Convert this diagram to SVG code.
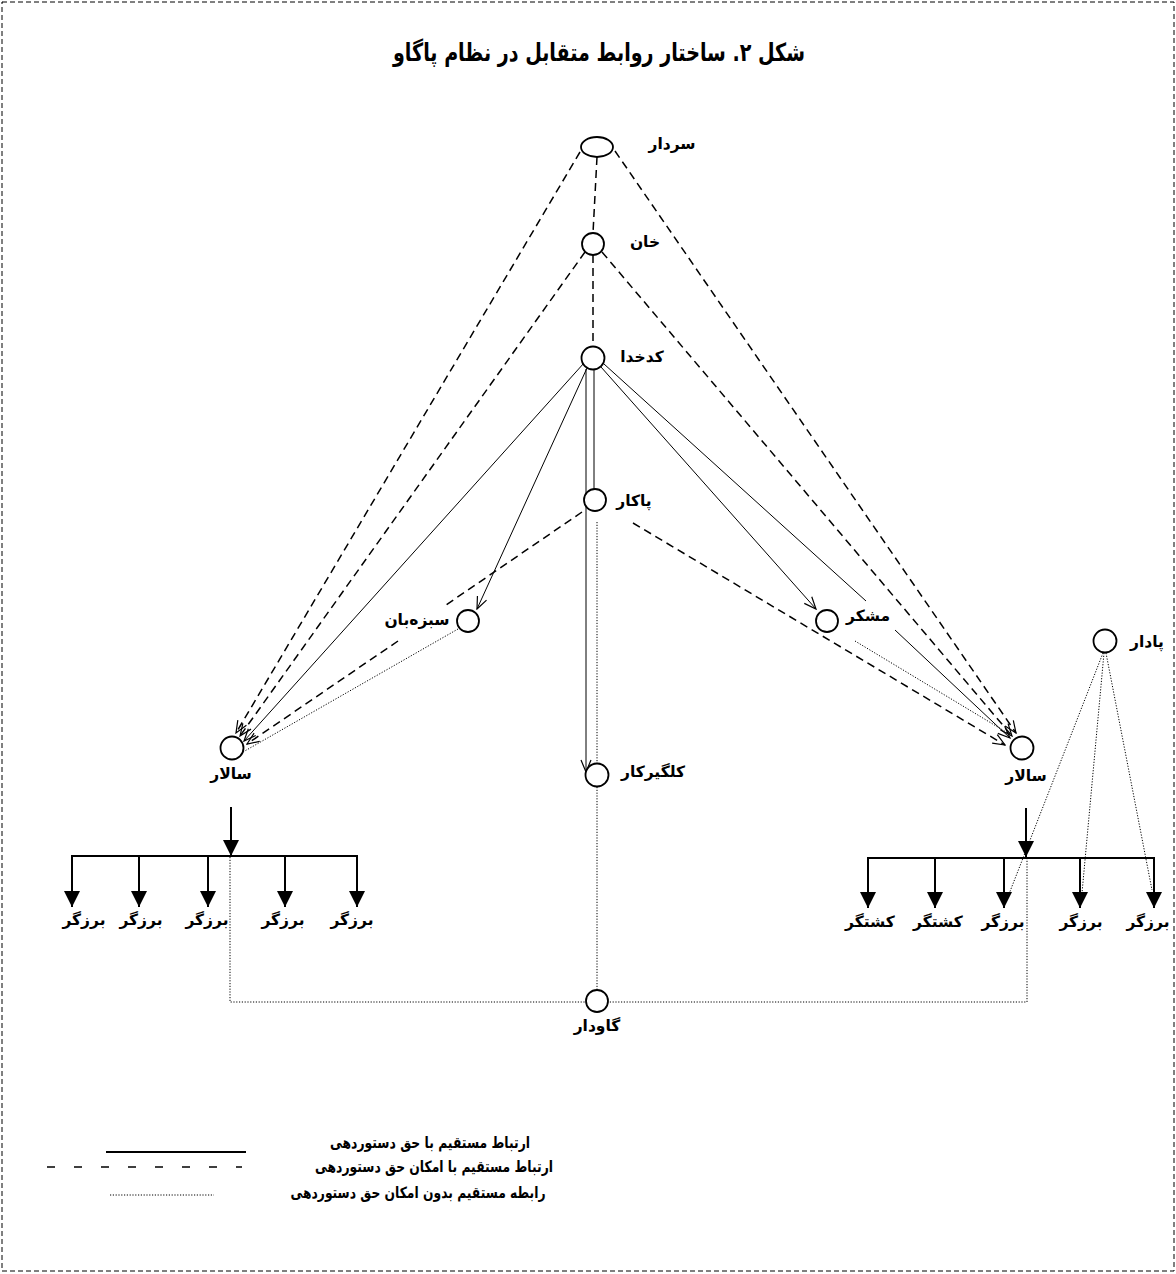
<svg xmlns="http://www.w3.org/2000/svg" width="1176" height="1274" viewBox="0 0 1176 1274">
<style>
.t{font-family:"DejaVu Sans","Noto Sans",sans-serif;font-weight:bold;font-size:15.5px;fill:#000;text-anchor:middle}
.title{font-size:25px}
.node{fill:#fff;stroke:#000;stroke-width:1.8}
.dash{fill:none;stroke:#000;stroke-width:1.5;stroke-dasharray:8 5}
.solid{fill:none;stroke:#000;stroke-width:1}
.dot{fill:none;stroke:#000;stroke-width:1;stroke-dasharray:1.2 1.6}
.thick{fill:none;stroke:#000;stroke-width:2}
</style>
<defs>
<marker id="open" markerWidth="14" markerHeight="12" refX="13" refY="6" orient="auto" markerUnits="userSpaceOnUse"><path d="M1,1 L13,6 L1,11" fill="none" stroke="#000" stroke-width="1.2" stroke-dasharray="none"/></marker>
<marker id="fill" markerWidth="16" markerHeight="16" refX="16" refY="8" orient="auto" markerUnits="userSpaceOnUse"><path d="M0,0 L16,8 L0,16 z" fill="#000" stroke="none"/></marker>
</defs>
<rect x="2" y="2" width="1172" height="1269" fill="#fff" stroke="#000" stroke-width="1" stroke-dasharray="5 3"/>
<text class="t title" x="599" y="61" textLength="412" lengthAdjust="spacingAndGlyphs">شکل ۲. ساختار روابط متقابل در نظام پاگاو</text>

<g id="connectors">
<!-- dashed -->
<line class="dash" x1="597" y1="157" x2="593" y2="233"/>
<line class="dash" x1="593" y1="255" x2="593" y2="347"/>
<line class="dash" x1="580" y1="152" x2="236" y2="733" marker-end="url(#open)"/>
<line class="dash" x1="615" y1="151" x2="1016" y2="733" marker-end="url(#open)"/>
<line class="dash" x1="585" y1="252" x2="240" y2="736" marker-end="url(#open)"/>
<line class="dash" x1="602" y1="252" x2="1012" y2="736" marker-end="url(#open)"/>
<line class="dash" x1="582" y1="512" x2="446" y2="605"/>
<line class="dash" x1="398" y1="641" x2="247" y2="744" marker-end="url(#open)"/>
<line class="dash" x1="633" y1="523" x2="1005" y2="745" marker-end="url(#open)"/>
<!-- solid -->
<line class="solid" x1="584" y1="363" x2="244" y2="741" marker-end="url(#open)"/>
<line class="solid" x1="587" y1="368" x2="477" y2="609" marker-end="url(#open)"/>
<line class="solid" x1="586" y1="369" x2="586" y2="772" marker-end="url(#open)"/>
<line class="solid" x1="594" y1="369" x2="594" y2="489"/>
<line class="solid" x1="601" y1="367" x2="816" y2="609" marker-end="url(#open)"/>
<line class="solid" x1="604" y1="364" x2="866" y2="601"/>
<line class="solid" x1="895" y1="630" x2="1010" y2="738" marker-end="url(#open)"/>
<!-- dotted -->
<line class="dot" x1="458" y1="629" x2="243" y2="752"/>
<line class="dot" x1="855" y1="641" x2="1011" y2="735"/>
<line class="dot" x1="597" y1="522" x2="597" y2="764"/>
<line class="dot" x1="597" y1="787" x2="597" y2="990"/>
<polyline class="dot" points="230,857 230,1002 586,1002"/>
<polyline class="dot" points="1027,858 1027,1002 608,1002"/>
<line class="dot" x1="1103" y1="653" x2="1009" y2="894"/>
<line class="dot" x1="1104" y1="653" x2="1082" y2="893"/>
<line class="dot" x1="1106" y1="653" x2="1152" y2="890"/>
<!-- left branch -->
<line class="thick" x1="231" y1="807" x2="231" y2="856" marker-end="url(#fill)"/>
<line class="thick" x1="71" y1="856" x2="358" y2="856"/>
<line class="thick" x1="72" y1="856" x2="72" y2="907" marker-end="url(#fill)"/>
<line class="thick" x1="139" y1="856" x2="139" y2="907" marker-end="url(#fill)"/>
<line class="thick" x1="208" y1="856" x2="208" y2="907" marker-end="url(#fill)"/>
<line class="thick" x1="285" y1="856" x2="285" y2="907" marker-end="url(#fill)"/>
<line class="thick" x1="357" y1="856" x2="357" y2="907" marker-end="url(#fill)"/>
<!-- right branch -->
<line class="thick" x1="1026" y1="808" x2="1026" y2="857" marker-end="url(#fill)"/>
<line class="thick" x1="867" y1="858" x2="1155" y2="858"/>
<line class="thick" x1="868" y1="858" x2="868" y2="908" marker-end="url(#fill)"/>
<line class="thick" x1="935" y1="858" x2="935" y2="908" marker-end="url(#fill)"/>
<line class="thick" x1="1004" y1="858" x2="1004" y2="908" marker-end="url(#fill)"/>
<line class="thick" x1="1080" y1="858" x2="1080" y2="908" marker-end="url(#fill)"/>
<line class="thick" x1="1154" y1="858" x2="1154" y2="908" marker-end="url(#fill)"/>
</g>

<g id="n-sardar"><ellipse class="node" cx="597" cy="147" rx="16" ry="10"/><text class="t" x="672" y="149">سردار</text></g>
<g id="n-khan"><circle class="node" cx="593" cy="244" r="11"/><text class="t" x="645" y="247">خان</text></g>
<g id="n-kadkhoda"><circle class="node" cx="593" cy="358" r="11.5"/><text class="t" x="642" y="362">کدخدا</text></g>
<g id="n-pakar"><circle class="node" cx="595" cy="500" r="11"/><text class="t" x="634" y="506">پاکار</text></g>
<g id="n-sabzeban"><circle class="node" cx="468" cy="621" r="11"/><text class="t" x="417" y="625">سبزه‌بان</text></g>
<g id="n-mashkar"><circle class="node" cx="827" cy="621" r="11"/><text class="t" x="868" y="621">مشکر</text></g>
<g id="n-salar-l"><circle class="node" cx="232" cy="748" r="11.5"/><text class="t" x="231" y="779">سالار</text></g>
<g id="n-salar-r"><circle class="node" cx="1022" cy="748" r="11.5"/><text class="t" x="1026" y="781">سالار</text></g>
<g id="n-kalgirkar"><circle class="node" cx="597" cy="775" r="11.5"/><text class="t" x="653" y="777">کلگیرکار</text></g>
<g id="n-padar"><circle class="node" cx="1105" cy="641" r="11.5"/><text class="t" x="1147" y="647">پادار</text></g>
<g id="n-gavdar"><circle class="node" cx="597" cy="1001" r="11"/><text class="t" x="597" y="1031">گاودار</text></g>

<g id="n-left-workers">
<text class="t" x="84" y="925">برزگر</text>
<text class="t" x="141" y="925">برزگر</text>
<text class="t" x="207" y="925">برزگر</text>
<text class="t" x="283" y="925">برزگر</text>
<text class="t" x="352" y="925">برزگر</text>
</g>
<g id="n-right-workers">
<text class="t" x="870" y="927">کشتگر</text>
<text class="t" x="938" y="927">کشتگر</text>
<text class="t" x="1003" y="927">برزگر</text>
<text class="t" x="1081" y="927">برزگر</text>
<text class="t" x="1148" y="927">برزگر</text>
</g>

<g id="legend">
<line x1="106" y1="1152" x2="246" y2="1152" stroke="#000" stroke-width="2"/>
<text class="t" x="430" y="1148" textLength="200" lengthAdjust="spacingAndGlyphs">ارتباط مستقیم با حق دستوردهی</text>
<line x1="47" y1="1167" x2="242" y2="1167" stroke="#000" stroke-width="1.5" stroke-dasharray="8 19"/>
<text class="t" x="434" y="1172" textLength="238" lengthAdjust="spacingAndGlyphs">ارتباط مستقیم با امکان حق دستوردهی</text>
<line x1="110" y1="1195" x2="214" y2="1195" stroke="#000" stroke-width="1" stroke-dasharray="1.2 1.6"/>
<text class="t" x="418" y="1198" textLength="255" lengthAdjust="spacingAndGlyphs">رابطه مستقیم بدون امکان حق دستوردهی</text>
</g>
</svg>
